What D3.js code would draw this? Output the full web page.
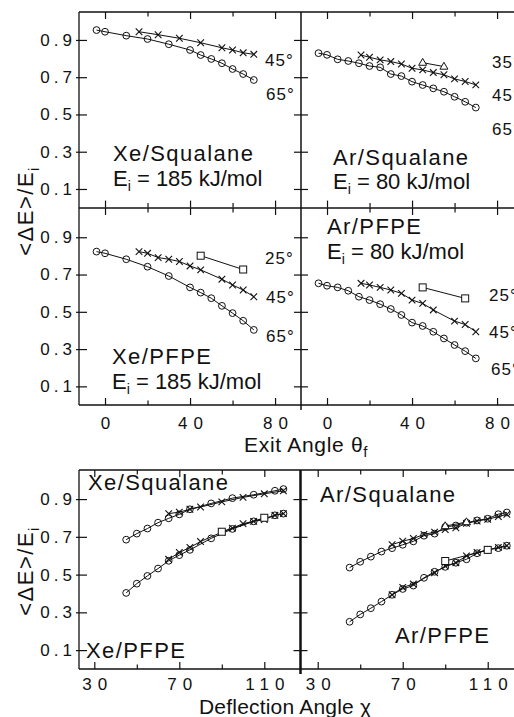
<!DOCTYPE html>
<html><head><meta charset="utf-8">
<script src="https://cdn.jsdelivr.net/npm/d3@7"></script>
<style>
body{margin:0;background:#fff;}
svg{display:block;font-family:"Liberation Sans",Arial,Helvetica,sans-serif;}
</style></head><body>
<svg id="c" width="514" height="717"></svg>
<script>
// ---------------- DATA ----------------
// incident angles of each symbol series (deg)
const incidentCircle = 65, incidentCross = 45, incidentSquare = 25, incidentTriangle = 35;

// Xe/Squalane, Ei = 185 kJ/mol
const xeSqCircTheta  = [-4, 0, 10, 20, 30, 40, 45, 50, 55, 60, 65, 70];
const xeSqCircE      = [0.953, 0.944, 0.923, 0.905, 0.877, 0.846, 0.819, 0.798, 0.775, 0.744, 0.717, 0.685];
const xeSqCrossTheta = [16, 25, 35, 45, 55, 60, 65, 70];
const xeSqCrossE     = [0.944, 0.928, 0.909, 0.885, 0.858, 0.846, 0.831, 0.823];

// Xe/PFPE, Ei = 185 kJ/mol
const xePfCircTheta  = [-4, 0, 10, 20, 30, 40, 45, 50, 55, 60, 65, 70];
const xePfCircE      = [0.823, 0.814, 0.782, 0.742, 0.692, 0.631, 0.603, 0.573, 0.532, 0.493, 0.452, 0.403];
const xePfCrossTheta = [16, 20, 25, 30, 35, 40, 45, 55, 60, 65, 70];
const xePfCrossE     = [0.823, 0.814, 0.791, 0.782, 0.770, 0.746, 0.725, 0.675, 0.644, 0.617, 0.581];
const xePfSqTheta    = [45, 65];
const xePfSqE        = [0.801, 0.727];

// Ar/Squalane, Ei = 80 kJ/mol
const arSqCircTheta  = [-4, 0, 5, 10, 15, 20, 25, 30, 35, 40, 45, 50, 55, 60, 65, 70];
const arSqCircE      = [0.829, 0.820, 0.796, 0.787, 0.775, 0.760, 0.753, 0.717, 0.706, 0.676, 0.658, 0.640, 0.622, 0.595, 0.568, 0.537];
const arSqCrossTheta = [16, 20, 25, 30, 35, 40, 45, 50, 55, 60, 65, 70];
const arSqCrossE     = [0.819, 0.807, 0.793, 0.784, 0.771, 0.748, 0.739, 0.725, 0.713, 0.691, 0.677, 0.659];
const arSqTriTheta   = [45, 55];
const arSqTriE       = [0.778, 0.757];

// Ar/PFPE, Ei = 80 kJ/mol
const arPfCircTheta  = [-4, 0, 5, 10, 15, 20, 25, 30, 35, 40, 45, 50, 55, 60, 65, 70];
const arPfCircE      = [0.653, 0.640, 0.631, 0.613, 0.581, 0.563, 0.541, 0.515, 0.483, 0.442, 0.424, 0.393, 0.357, 0.322, 0.289, 0.250];
const arPfCrossTheta = [16, 20, 25, 30, 35, 40, 45, 50, 60, 65, 70];
const arPfCrossE     = [0.653, 0.644, 0.631, 0.617, 0.599, 0.563, 0.545, 0.510, 0.450, 0.432, 0.393];
const arPfSqTheta    = [45, 65];
const arPfSqE        = [0.631, 0.572];

// tick values / labels
const yTickVals      = [0.1, 0.3, 0.5, 0.7, 0.9];
const exitTickVals   = [0, 20, 40, 60, 80];
const exitTickLabels = [0, 40, 80];
const deflTickVals   = [30, 50, 70, 90, 110];
const deflTickLabels = [30, 70, 110];

// ---------------- SCALES ----------------
const INK = "#111";
const svg = d3.select("#c");
const xTopL = d3.scaleLinear().domain([-12.24, 92.2]).range([79, 301]);
const xTopR = d3.scaleLinear().domain([-12.24, 92.2]).range([301, 523]);
const yTop  = d3.scaleLinear().domain([0, 1.05]).range([207.6, 12]);
const yMid  = d3.scaleLinear().domain([0, 1.057]).range([405, 208]);
const xBotL = d3.scaleLinear().domain([22.8, 126.8]).range([79, 300]);
const xBotR = d3.scaleLinear().domain([21.9, 126.6]).range([300.5, 523]);
const yBot  = d3.scaleLinear().domain([0, 1.054]).range([669, 470]);

// ---------------- MARKS ----------------
function drawSeries(xs, ys, xs_, ys_, marker) {
  const pts = xs.map((x, i) => [xs_(x), ys_(ys[i])]);
  const g = svg.append("g");
  g.append("path").attr("d", d3.line()(pts)).attr("fill", "none")
    .attr("stroke", INK).attr("stroke-width", 1);
  pts.forEach(([x, y]) => {
    if (marker === "circle") {
      g.append("circle").attr("cx", x).attr("cy", y).attr("r", 3.4)
        .attr("fill", "none").attr("stroke", INK).attr("stroke-width", 1);
    } else if (marker === "cross") {
      const s = 3.3;
      g.append("path").attr("d", `M${x-s},${y-s}L${x+s},${y+s}M${x-s},${y+s}L${x+s},${y-s}`)
        .attr("stroke", INK).attr("stroke-width", 1.1);
    } else if (marker === "square") {
      g.append("rect").attr("x", x-3.5).attr("y", y-3.5).attr("width", 7).attr("height", 7)
        .attr("fill", "#fff").attr("stroke", INK).attr("stroke-width", 1);
    } else if (marker === "triangle") {
      g.append("path").attr("d", `M${x},${y-4.3}L${x+4},${y+2.6}L${x-4},${y+2.6}Z`)
        .attr("fill", "#fff").attr("stroke", INK).attr("stroke-width", 1);
    }
  });
}
const chi = (thetaI, arr) => arr.map(t => 180 - thetaI - t);

// top-left: Xe/Squalane
drawSeries(xeSqCircTheta, xeSqCircE, xTopL, yTop, "circle");
drawSeries(xeSqCrossTheta, xeSqCrossE, xTopL, yTop, "cross");
// top-right: Ar/Squalane
drawSeries(arSqCircTheta, arSqCircE, xTopR, yTop, "circle");
drawSeries(arSqCrossTheta, arSqCrossE, xTopR, yTop, "cross");
drawSeries(arSqTriTheta, arSqTriE, xTopR, yTop, "triangle");
// middle-left: Xe/PFPE
drawSeries(xePfCircTheta, xePfCircE, xTopL, yMid, "circle");
drawSeries(xePfCrossTheta, xePfCrossE, xTopL, yMid, "cross");
drawSeries(xePfSqTheta, xePfSqE, xTopL, yMid, "square");
// middle-right: Ar/PFPE
drawSeries(arPfCircTheta, arPfCircE, xTopR, yMid, "circle");
drawSeries(arPfCrossTheta, arPfCrossE, xTopR, yMid, "cross");
drawSeries(arPfSqTheta, arPfSqE, xTopR, yMid, "square");
// bottom-left: vs deflection angle
drawSeries(chi(incidentCircle, xeSqCircTheta), xeSqCircE, xBotL, yBot, "circle");
drawSeries(chi(incidentCross, xeSqCrossTheta), xeSqCrossE, xBotL, yBot, "cross");
drawSeries(chi(incidentCircle, xePfCircTheta), xePfCircE, xBotL, yBot, "circle");
drawSeries(chi(incidentCross, xePfCrossTheta), xePfCrossE, xBotL, yBot, "cross");
drawSeries(chi(incidentSquare, xePfSqTheta), xePfSqE, xBotL, yBot, "square");
// bottom-right
drawSeries(chi(incidentCircle, arSqCircTheta), arSqCircE, xBotR, yBot, "circle");
drawSeries(chi(incidentCross, arSqCrossTheta), arSqCrossE, xBotR, yBot, "cross");
drawSeries(chi(incidentTriangle, arSqTriTheta), arSqTriE, xBotR, yBot, "triangle");
drawSeries(chi(incidentCircle, arPfCircTheta), arPfCircE, xBotR, yBot, "circle");
drawSeries(chi(incidentCross, arPfCrossTheta), arPfCrossE, xBotR, yBot, "cross");
drawSeries(chi(incidentSquare, arPfSqTheta), arPfSqE, xBotR, yBot, "square");

// ---------------- FRAMES ----------------
function line(x1, y1, x2, y2, w) {
  svg.append("line").attr("x1", x1).attr("y1", y1).attr("x2", x2).attr("y2", y2)
    .attr("stroke", INK).attr("stroke-width", w || 1.3);
}
line(79, 12, 523, 12); line(79, 12, 79, 405); line(79, 208, 523, 208);
line(79, 405, 523, 405); line(301, 12, 301, 410, 1.5);
line(79, 470, 523, 470); line(79, 470, 79, 669); line(79, 669, 523, 669);
line(300.5, 470, 300.5, 674, 2.5);

// ---------------- AXES ----------------
function styleAxis(g) {
  g.select(".domain").remove();
  g.attr("font-family", null).attr("font-size", 17);
  g.selectAll(".tick line").attr("stroke", INK).attr("stroke-width", 1.2);
  g.selectAll(".tick text").attr("fill", INK);
}
// y axes
[yTop, yMid, yBot].forEach(y => {
  const gL = svg.append("g").attr("transform", "translate(79,0)")
    .call(d3.axisLeft(y).tickValues(yTickVals).tickSizeInner(-8).tickSizeOuter(0)
      .tickPadding(3).tickFormat(d3.format(".1f")));
  styleAxis(gL);
  gL.selectAll(".tick line").attr("x1", -3);
  gL.selectAll(".tick text").style("letter-spacing", "4px");
  const xd = y === yBot ? 300.5 : 301;
  const gA = svg.append("g").attr("transform", `translate(${xd},0)`)
    .call(d3.axisRight(y).tickValues(yTickVals).tickSizeInner(-7).tickSizeOuter(0).tickFormat(""));
  styleAxis(gA);
  const gB = svg.append("g").attr("transform", `translate(${xd},0)`)
    .call(d3.axisLeft(y).tickValues(yTickVals).tickSizeInner(-7).tickSizeOuter(0).tickFormat(""));
  styleAxis(gB);
});

function xAxes(xs, vals, labels, majorSet, yTopPos, yBotPos, pad) {
  const gT = svg.append("g").attr("transform", `translate(0,${yTopPos})`)
    .call(d3.axisTop(xs).tickValues(vals).tickSizeInner(-7).tickSizeOuter(0).tickFormat(""));
  styleAxis(gT);
  gT.selectAll(".tick line").attr("y2", d => majorSet.includes(d) ? 7 : 4.5);
  const gBt = svg.append("g").attr("transform", `translate(0,${yBotPos})`)
    .call(d3.axisBottom(xs).tickValues(vals).tickSizeInner(-7).tickSizeOuter(0).tickPadding(pad)
      .tickFormat(d => labels && labels.includes(d) ? String(d) : ""));
  styleAxis(gBt);
  gBt.selectAll(".tick line").attr("y2", d => majorSet.includes(d) ? -7 : -4.5);
  gBt.selectAll(".tick text").style("letter-spacing", "6px").attr("dx", 3);
}
xAxes(xTopL, exitTickVals, null, exitTickLabels, 12, 207.6, 12);
xAxes(xTopR, exitTickVals, null, exitTickLabels, 12, 207.6, 12);
xAxes(xTopL, exitTickVals, exitTickLabels, exitTickLabels, 208, 405, 12);
xAxes(xTopR, exitTickVals, exitTickLabels, exitTickLabels, 208, 405, 12);
xAxes(xBotL, deflTickVals, deflTickLabels, deflTickLabels, 470, 669, 9);
xAxes(xBotR, deflTickVals, deflTickLabels, deflTickLabels, 470, 669, 9);

// ---------------- TEXT ----------------
function txt(x, y, s, size, ls) {
  return svg.append("text").attr("x", x).attr("y", y).attr("font-size", size)
    .attr("fill", INK).style("letter-spacing", (ls || 0) + "px").text(s);
}
function eiText(x, y, val) {
  const t = svg.append("text").attr("x", x).attr("y", y).attr("font-size", 22).attr("fill", INK);
  t.append("tspan").text("E");
  t.append("tspan").attr("font-size", 14).attr("dy", 5).text("i");
  t.append("tspan").attr("dy", -5).text(` = ${val} kJ/mol`);
}
// panel labels
txt(113, 161, "Xe/Squalane", 22, 1.4); eiText(113, 186, 185);
txt(333, 165, "Ar/Squalane", 22, 1.4); eiText(333, 189, 80);
txt(112, 364, "Xe/PFPE", 22, 1.4);     eiText(112, 389, 185);
txt(327, 234, "Ar/PFPE", 22, 1.4);     eiText(327, 259, 80);
txt(88, 490, "Xe/Squalane", 22, 1.4);
txt(86, 658, "Xe/PFPE", 22, 1.4);
txt(320, 502, "Ar/Squalane", 22, 1.4);
txt(395, 643, "Ar/PFPE", 22, 1.4);

// incident-angle labels
txt(265, 66, "45°", 17, 1); txt(266, 100, "65°", 17, 1);
txt(492, 68, "35°", 17, 1); txt(492, 101, "45°", 17, 1); txt(492, 135, "65°", 17, 1);
txt(265, 264, "25°", 17, 1); txt(266, 303, "45°", 17, 1); txt(266, 342, "65°", 17, 1);
txt(489, 301, "25°", 17, 1); txt(489, 338, "45°", 17, 1); txt(491, 375, "65°", 17, 1);

// axis titles
{
  const t = svg.append("text").attr("x", 244).attr("y", 452).attr("font-size", 21)
    .attr("fill", INK).style("letter-spacing", "0.7px");
  t.append("tspan").text("Exit Angle θ");
  t.append("tspan").attr("font-size", 15).attr("dy", 5).text("f");
}
txt(199, 714, "Deflection Angle χ", 21, 0.2);
[211, 571].forEach(cy => {
  const t = svg.append("text").attr("transform", `translate(33,${cy}) rotate(-90)`)
    .attr("text-anchor", "middle").attr("font-size", 22).attr("fill", INK)
    .style("letter-spacing", "1.5px");
  t.append("tspan").text("<ΔE>/E");
  t.append("tspan").attr("font-size", 14).attr("dy", 6).text("i");
});
</script>
</body></html>
